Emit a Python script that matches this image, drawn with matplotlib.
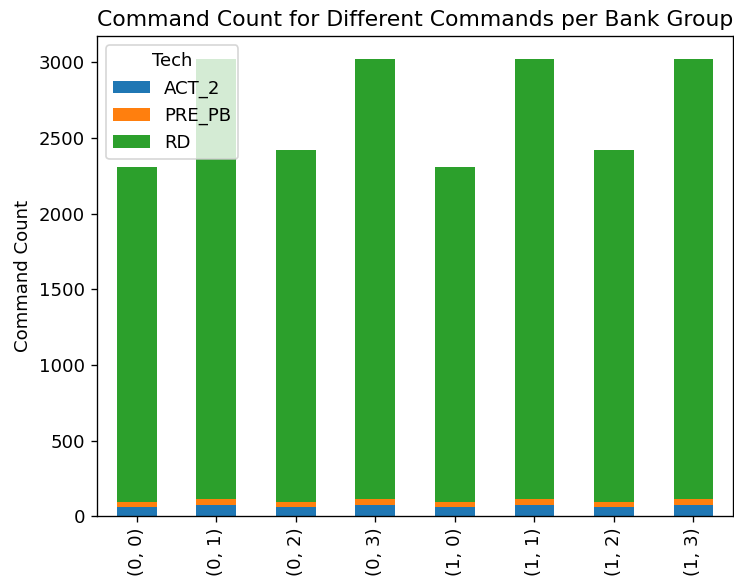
import matplotlib
matplotlib.use("Agg")
import matplotlib.pyplot as plt
import numpy as np
import pandas as pd

groups = ["(0, 0)", "(0, 1)", "(0, 2)", "(0, 3)", "(1, 0)", "(1, 1)", "(1, 2)", "(1, 3)"]
act_2 = [64, 72, 64, 72, 64, 72, 64, 72]
pre_pb = [32, 40, 32, 40, 32, 40, 32, 40]
rd = [2214, 2912, 2324, 2912, 2214, 2912, 2324, 2912]

df = pd.DataFrame({"ACT_2": act_2, "PRE_PB": pre_pb, "RD": rd}, index=groups)
df.columns.name = "Tech"

plt.rcParams["font.size"] = 10.9

fig, ax = plt.subplots(figsize=(734 / 120, 580 / 120), dpi=120)
df.plot(kind="bar", stacked=True, ax=ax)

ax.set_title("Command Count for Different Commands per Bank Group", fontsize=13.1)
ax.set_ylabel("Command Count")
ax.set_xlabel("")
ax.legend(title="Tech", loc="upper left")

fig.subplots_adjust(left=0.132, right=0.999, top=0.938, bottom=0.11)
fig.savefig("out.png", dpi=120)
